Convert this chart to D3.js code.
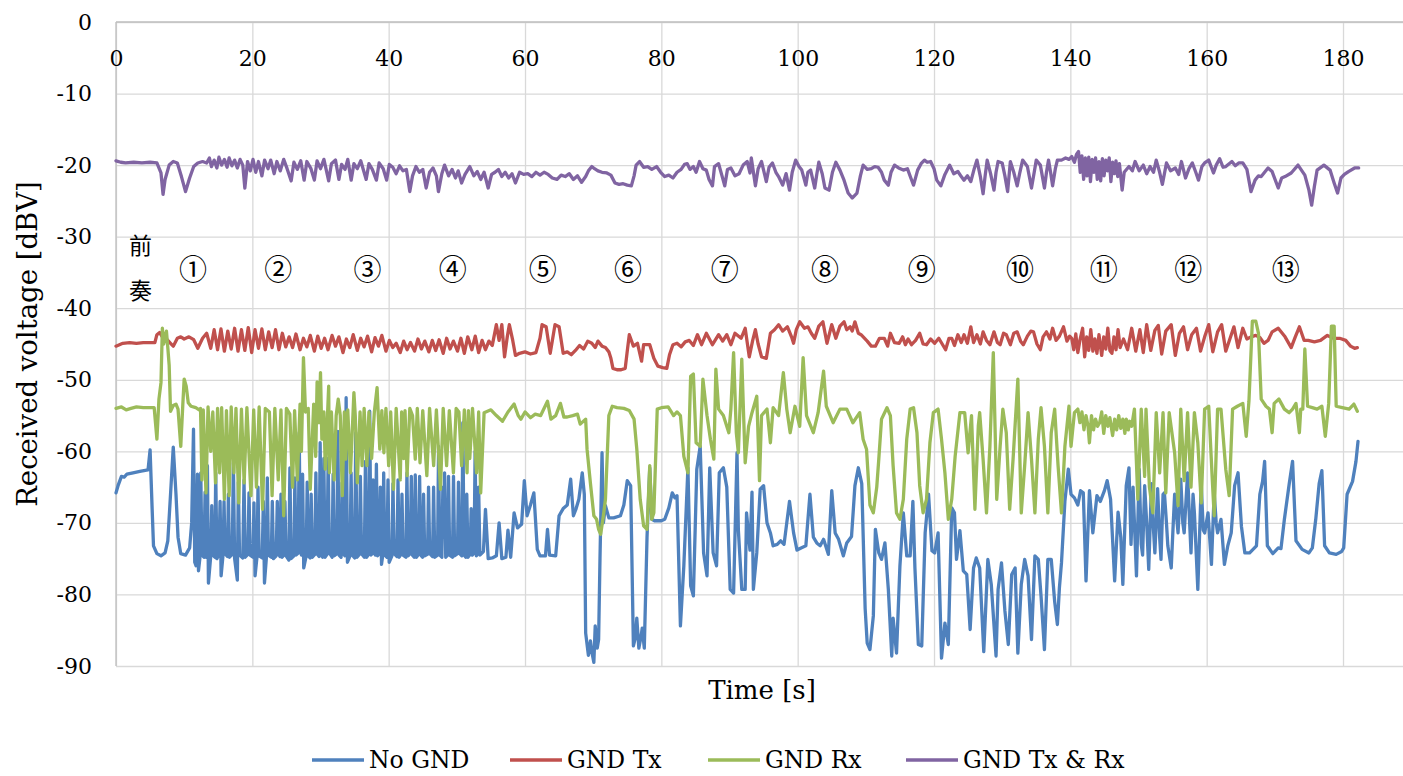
<!DOCTYPE html>
<html>
<head>
<meta charset="utf-8">
<script src="https://cdn.jsdelivr.net/npm/d3@7"></script>
<style>
  body { margin: 0; background: #fff; }
  svg { display: block; font-family: "DejaVu Serif", "Liberation Serif", serif; }
</style>
</head>
<body>
<svg id="chart" width="1403" height="776"></svg>
<script>
// ---- data: [time s, received voltage dBV] ----
const noGnd = [[0,-65.8],[0.3,-64.8],[0.8,-63.5],[1.2,-63.6],[1.6,-63.2],[2.5,-63.0],[3.5,-62.8],[4.7,-62.6],[5.0,-59.8],[5.3,-68],[5.5,-73.2],[6.0,-74.3],[6.6,-74.6],[7.2,-74.2],[7.6,-72.5],[8.0,-66],[8.4,-59.4],[8.8,-66],[9.1,-72],[9.5,-74.3],[10.2,-74.5],[10.8,-73.5],[11.1,-70],
[11.37,-56.9],[11.55,-75.5],[11.75,-76.0],[11.95,-63.2],[12.1,-76.7],[12.3,-75],[12.44,-63.0],[12.6,-74.5],[12.9,-74.8],[13.07,-65.7],[13.22,-74.8],[13.41,-62.0],[13.56,-78.4],[13.9,-74.6],[14.05,-67.6],[14.2,-74.5],[14.5,-74.8],[14.63,-63.0],[14.8,-75.0],[15.1,-74.4],[15.27,-67.0],[15.42,-77.4],[15.7,-74.5],[15.85,-67.0],[16.0,-74.3],[16.35,-74.7],[16.49,-66.0],[16.65,-74.8],[17.05,-74.4],[17.22,-61.6],[17.4,-75.0],[17.8,-78.0],[17.95,-64.3],[18.12,-74.5],[18.6,-74.9],[18.78,-64.0],[18.95,-74.8],[19.35,-74.4],[19.51,-65.8],[19.68,-74.5],[20.1,-74.8],[20.24,-67.2],[20.4,-77.4],[20.7,-74.6],[20.83,-65.0],[21.0,-74.6],[21.45,-74.9],[21.61,-67.0],[21.78,-78.4],[22.05,-75],[22.2,-63.7],[22.36,-74.5],[22.78,-74.8],[22.93,-67.0],[23.1,-75.0],[23.5,-74.6],[23.66,-67.0],[23.82,-74.3],[24.05,-74.7],[24.2,-66.0],[24.36,-74.8],[24.63,-74.5],[24.78,-67.0],[24.95,-74.6],[25.36,-75.2],[25.51,-62.3],[25.68,-75.0],[26.1,-74.6],[26.24,-63.7],[26.4,-74.5],[26.73,-74.2],[26.88,-57.4],[27.03,-74.0],[27.22,-74.5],[27.37,-63.2],[27.54,-76.3],[27.9,-74.6],[28.05,-64.3],[28.21,-74.6],[28.48,-74.9],[28.63,-66.0],[28.8,-74.8],[29.17,-74.4],[29.32,-63.0],[29.48,-74.3],[29.8,-74.7],[29.95,-58.8],[30.12,-74.5],[30.33,-74.8],[30.49,-61.0],[30.66,-74.8],[30.97,-74.4],[31.12,-61.0],[31.3,-74.2],[31.7,-74.8],[31.85,-63.2],[32.02,-74.6],[32.39,-74.3],[32.54,-57.2],[32.71,-74.5],[33.02,-74.8],[33.17,-64.4],[33.33,-74.3],[33.6,-74.6],[33.76,-52.5],[33.95,-75.5],[34.33,-74.6],[34.49,-63.0],[34.66,-74.5],[35.02,-74.9],[35.17,-57.4],[35.35,-74.8],[35.7,-74.4],[35.85,-63.5],[36.02,-74.3],[36.43,-74.8],[36.59,-61.4],[36.76,-74.8],[37.06,-74.4],[37.22,-54.4],[37.4,-74.5],[37.56,-74.3],[37.71,-64.0],[37.88,-74.2],[38.04,-74.5],[38.2,-61.8],[38.37,-74.6],[38.63,-74.3],[38.78,-65.0],[38.95,-75.8],[39.12,-74.6],[39.27,-63.0],[39.44,-74.5],[39.75,-74.8],[39.9,-64.0],[40.07,-75.5],[40.48,-74.6],[40.63,-64.5],[40.8,-74.3],[41.22,-74.7],[41.37,-64.0],[41.54,-74.8],[41.8,-74.4],[41.95,-66.0],[42.12,-74.5],[42.53,-74.8],[42.68,-63.0],[42.85,-74.6],[43.17,-74.3],[43.32,-63.5],[43.49,-74.5],[43.75,-74.8],[43.9,-63.3],[44.07,-74.8],[44.39,-74.4],[44.54,-63.5],[44.71,-74.5],[44.97,-74.8],[45.12,-66.0],[45.29,-74.6],[45.7,-74.4],[45.85,-65.0],[46.02,-74.3],[46.44,-74.7],[46.59,-65.0],[46.76,-74.8],[47.17,-74.5],[47.32,-59.3],[47.5,-74.5],[47.8,-74.8],[47.95,-65.0],[48.07,-72],[48.2,-63.0],[48.37,-74.8],[48.63,-74.5],[48.78,-63.5],[48.95,-74.5],[49.36,-74.8],[49.51,-63.5],[49.68,-74.6],[50.09,-74.3],[50.24,-64.3],[50.41,-74.3],[50.73,-74.6],[50.88,-56.0],[51.06,-74.5],[51.31,-74.8],[51.46,-66.0],[51.63,-74.8],[51.95,-74.4],[52.1,-68.0],[52.26,-74.5],[52.53,-74.2],[52.68,-60.0],[52.86,-74.6],[53.06,-74.3],[53.2,-65.0],[53.38,-74.5],
[53.9,-74.0],[54.2,-68.1],[54.6,-75.0],[55.2,-74.9],[55.8,-74.6],[56.2,-70.0],[56.6,-75.0],[57.2,-74.8],[57.5,-71.0],[57.9,-74.8],[58.4,-68.6],[58.9,-70.7],[59.5,-70.2],[59.9,-64.1],[60.3,-69.0],[60.8,-67.5],[61.3,-65.8],[61.8,-73.7],[62.2,-74.6],[63.0,-74.6],[63.3,-70.9],[63.6,-74.5],[64.5,-74.6],[65.0,-69.0],[65.6,-68.0],[66.2,-67.5],[66.7,-63.9],[67.1,-69.0],[67.5,-68.0],[67.9,-66.7],[68.4,-63.0],[68.7,-66.0],[68.9,-85.4],[69.3,-88.5],[69.6,-86.5],[69.8,-88.0],[70.1,-89.5],[70.3,-84.4],[70.6,-87.5],[70.8,-86.3],[71.0,-75.0],[71.3,-60.2],[71.5,-70.0],[71.8,-67.6],[72.3,-69.3],[73.0,-69.3],[74.0,-69.0],[74.5,-67.5],[75.0,-64.1],[75.5,-64.8],[75.9,-87.2],[76.2,-86.0],[76.4,-83.3],[76.7,-87.5],[77.0,-86.0],[77.2,-84.7],[77.5,-87.5],[77.9,-72.0],[78.3,-62.3],[78.6,-69.5],[79.0,-69.7],[80.0,-69.7],[80.5,-69.5],[81.1,-67.9],[81.6,-65.8],[82.0,-66.5],[82.3,-66.2],[82.8,-84.4],[83.3,-76.0],[83.9,-62.3],[84.3,-78.8],[84.7,-80.2],[85.2,-62.5],[85.7,-59.3],[86.2,-74.2],[86.7,-77.4],[87.1,-62.3],[87.6,-74.2],[88.1,-76.0],[88.5,-63.0],[89.1,-62.3],[89.6,-65.0],[90.1,-79.3],[90.6,-79.8],[91.1,-60.2],[91.3,-71.0],[91.8,-79.3],[92.3,-79.3],[92.5,-68.6],[93.0,-73.8],[93.3,-65.7],[93.5,-79.3],[94.0,-74.2],[94.5,-65.3],[95.0,-64.8],[95.5,-70.0],[96.0,-71.4],[96.4,-73.2],[97.0,-73.0],[97.5,-72.5],[98.0,-73.0],[98.4,-70.0],[98.8,-67.0],[99.4,-71.4],[99.9,-73.8],[100.5,-73.5],[101.2,-73.2],[101.8,-66.0],[102.3,-72.0],[102.8,-72.8],[103.3,-73.2],[103.8,-72.3],[104.5,-74.4],[105.0,-65.5],[105.5,-71.4],[106.0,-72.3],[106.7,-74.6],[107.2,-72.8],[107.9,-71.9],[108.4,-64.8],[108.9,-62.3],[109.4,-64.5],[109.9,-82.0],[110.2,-86.8],[110.6,-87.7],[111.1,-83.0],[111.4,-70.9],[111.9,-74.2],[112.3,-75.1],[112.8,-72.8],[113.3,-79.3],[113.8,-88.6],[114.0,-83.3],[114.5,-88.2],[115.0,-76.0],[115.5,-68.6],[116.0,-74.6],[116.5,-74.6],[116.9,-67.0],[117.2,-76.3],[117.7,-87.0],[118.2,-87.2],[118.7,-71.4],[119.2,-66.0],[119.7,-73.9],[120.1,-74.2],[120.6,-71.4],[121.1,-88.9],[121.6,-84.0],[122.1,-87.0],[122.6,-67.9],[123.0,-68.6],[123.3,-75.1],[123.8,-71.1],[124.3,-76.7],[124.8,-77.2],[125.3,-84.9],[125.8,-76.3],[126.2,-74.9],[126.7,-76.3],[127.3,-88.0],[127.9,-75.1],[128.4,-78.6],[129.1,-88.6],[129.4,-79.3],[129.9,-75.6],[130.4,-82.3],[130.9,-87.0],[131.4,-77.2],[131.9,-76.3],[132.3,-88.2],[132.8,-78.6],[133.3,-75.1],[133.8,-77.4],[134.3,-86.3],[134.8,-74.6],[135.3,-75.1],[135.7,-80.2],[136.2,-87.7],[136.7,-75.1],[137.2,-75.1],[137.7,-81.0],[138.1,-84.2],[138.4,-79.0],[138.7,-75.6],[139.2,-67.0],[139.7,-62.5],[140.1,-66.0],[140.6,-66.5],[141.1,-67.5],[141.5,-65.5],[141.9,-65.8],[142.3,-78.1],[142.8,-65.5],[143.3,-71.4],[143.9,-66.2],[144.4,-67.0],
[145.0,-65.5],[145.4,-64.1],[145.9,-66.7],[146.5,-78.1],[147.0,-68.5],[147.4,-72],[147.7,-78.6],[148.2,-64.8],[148.6,-62.3],[148.9,-73],[149.2,-65],[149.7,-77.4],[150.1,-62.5],[150.4,-73],[150.6,-74.5],[150.9,-64.8],[151.2,-70],[151.5,-76.5],[151.9,-64.5],[152.2,-71],[152.4,-74.2],[152.8,-65.2],[153.1,-72],[153.3,-75.1],[153.6,-66.0],[153.8,-65.8],[154.1,-70],[154.3,-73.2],[154.8,-76.3],[155.1,-70],[155.3,-66],[155.8,-71.4],[156.2,-63.9],[156.5,-70],[156.7,-71.4],[157.2,-63],[157.5,-70],[157.7,-74.2],[158.0,-66],[158.2,-68.6],[158.7,-79.3],[159.2,-64.5],[159.5,-71],[159.7,-71.4],[160.2,-68.6],[160.7,-75.8],[161.1,-65.8],[161.4,-70],[161.6,-71.4],[162.1,-69.5],[162.6,-75.8],[163.1,-73.2],[163.6,-71.4],[164.1,-64.8],[164.6,-63],[165.1,-70.5],[165.6,-74.2],[166.3,-74.2],[167.3,-73.2],[167.8,-66],[168.2,-64.2],[168.5,-61.4],[168.9,-73.2],[169.7,-74.3],[170.5,-73.5],[170.9,-73.6],[171.4,-69.5],[172.1,-64.6],[172.6,-61.4],[173.1,-72.5],[174.0,-73.7],[175.0,-74.2],[175.5,-73.5],[176.0,-69.5],[176.5,-64.5],[176.9,-62.7],[177.3,-73.2],[178.0,-74.2],[179.0,-74.4],[179.8,-74],[180.1,-73.5],[180.6,-66],[181.4,-64.2],[181.9,-61.4],[182.2,-58.6]];

const gndTx = [[0,-45.3],[0.5,-45.1],[1.0,-44.9],[2,-44.8],[3,-44.9],[4,-44.8],[5,-44.8],[5.7,-44.8],[6.0,-43.7],[6.4,-43.4],[6.8,-44.0],[7.5,-44.4],[8.0,-44.9],[8.4,-45.3],[9.0,-44.2],[9.5,-44.0],[10.0,-44.3],[10.7,-44.0],[11.4,-44.4],[12.0,-45.6],[12.7,-44.2],[13.3,-43.5],[13.9,-45.6],
[14.4,-43.0],[14.9,-45.8],[15.4,-42.9],[15.9,-46.0],[16.4,-43.2],[16.9,-45.7],[17.4,-42.8],[17.9,-46.0],[18.4,-43.0],[18.9,-45.9],[19.4,-42.7],[19.9,-46.2],[20.4,-43.0],[20.9,-45.6],[21.4,-42.9],[21.9,-45.8],[22.4,-43.3],[22.9,-45.5],[23.4,-43.0],[23.9,-45.8],[24.4,-43.5],[24.9,-45.4],
[25.4,-44.0],[25.9,-45.5],[26.4,-43.6],[27.0,-45.8],[27.5,-44.2],[28.0,-45.4],[28.5,-43.8],[29.1,-46.0],[29.6,-43.9],[30.1,-45.6],[30.6,-44.2],[31.1,-45.8],[31.7,-43.8],[32.2,-45.3],[32.7,-44.0],[33.3,-46.2],[33.8,-44.3],[34.3,-45.5],[34.8,-43.7],[35.4,-45.9],[35.9,-44.2],[36.4,-45.4],[36.9,-43.9],[37.5,-46.1],[38.0,-44.1],[38.5,-45.3],[39.0,-43.8],[39.6,-46.0],[40.1,-44.5],[40.6,-45.5],[41.1,-44.9],[41.7,-46.2],[42.2,-44.6],[42.7,-45.8],[43.2,-44.8],[43.8,-46.0],[44.3,-44.3],[44.8,-45.7],[45.3,-44.6],[45.9,-46.1],[46.4,-44.5],[46.9,-45.9],[47.4,-44.4],[48.0,-46.3],[48.5,-44.2],[49.0,-45.7],[49.5,-44.6],[50.1,-46.0],[50.6,-44.2],[51.1,-46.3],[51.6,-44.0],[52.2,-45.8],[52.7,-43.9],[53.2,-46.2],[53.7,-44.5],[54.2,-45.8],[54.7,-44.6],[55.2,-45.2],
[55.8,-42.3],[56.2,-44.5],[56.6,-42.3],[57.0,-46.8],[57.4,-44],[57.7,-42.3],[58.2,-44.5],[58.6,-46.6],[59.2,-46.3],[60.0,-46.1],[60.8,-46.4],[61.6,-46.2],[62.2,-44.2],[62.5,-42.3],[63.1,-42.6],[63.7,-46.3],[64.4,-42.3],[65.0,-42.6],[65.6,-46.3],[66.2,-46.1],[66.8,-46.5],[67.4,-45.9],[68.0,-45.2],[68.6,-45.7],[69.2,-44.6],[69.8,-44.9],[70.3,-45.5],[70.7,-44.6],[71.3,-45.3],[71.8,-45.5],[72.3,-46.1],[72.6,-47.0],[72.9,-48.4],[73.5,-48.6],[74.1,-48.6],[74.7,-48.4],[75.0,-46],[75.3,-43.7],[75.9,-45.3],[76.5,-44.9],[77.1,-47.4],[77.4,-45.1],[78.3,-45.1],[78.9,-47.0],[79.5,-48.1],[80.2,-48.3],[80.8,-48.4],[81.2,-46.5],[81.7,-45.1],[82.3,-44.9],[82.9,-45.4],[83.5,-44.7],[84.1,-44.5],[84.7,-45.2],[85.3,-43.7],[85.9,-45.1],[86.6,-43.5],[87.5,-45.1],[88.4,-43.7],[89.0,-44.6],[89.6,-43.7],[90.2,-45.1],[90.8,-43.5],[91.7,-44.2],[92.3,-42.8],[92.9,-46.8],[93.4,-44.5],[93.8,-43.0],[94.2,-45],[94.7,-46.8],[95.4,-47.0],[96.0,-43.5],[96.6,-43.0],[97.2,-42.3],[97.8,-43.2],[98.5,-42.6],[99.1,-44.0],[99.4,-44.9],[99.8,-43.0],[100.3,-41.9],[101.0,-42.8],[101.5,-42.6],[102.0,-43.5],[102.5,-44.2],[103.1,-42.5],[103.7,-41.9],[104.3,-44.9],[105.0,-42.3],[105.6,-44.2],[106.2,-42.5],[106.8,-41.9],[107.2,-43],[107.7,-42.6],[108.0,-43.2],[108.4,-41.9],[108.9,-43.5],[109.3,-43.7],[110.2,-44.6],[110.8,-45.3],[111.4,-45.3],[112.0,-44.2],[112.7,-44.2],[113.2,-45.3],[113.6,-43.5],[114.2,-44.8],[114.9,-44.9],[115.4,-44],[115.8,-45.1],[116.2,-44.3],[116.7,-45.1],[117.3,-44.5],[117.9,-43.5],[118.4,-45.0],[118.9,-45.1],[119.5,-44.3],[120.1,-44.9],[120.7,-44.2],[121.2,-45.0],[121.7,-45.8],[122.2,-44.2],[122.6,-44.2],[123.0,-45.2],[123.5,-43.7],[124.0,-44.8],[124.4,-43.7],[124.9,-44.9],[125.4,-42.6],[125.8,-44.8],[126.3,-43.7],[126.8,-45.0],[127.2,-43.3],[127.7,-44.5],[128.2,-45.1],[128.8,-43.3],[129.3,-44.8],[129.7,-45.1],[130.2,-43.5],[130.6,-43.7],[131.2,-45.1],[131.7,-43.5],[132.2,-43.3],[132.7,-44.6],[133.1,-45.1],[133.7,-43.9],[134.2,-43.2],[134.6,-43.3],[135.1,-45],[135.6,-45.8],[136.0,-44],[136.5,-43.3],[137.0,-44.3],[137.4,-42.8],[137.9,-44.5],[138.4,-43.9],[139.0,-42.6],[139.5,-44.6],[139.9,-43.9],
[140.2,-44.2],[140.5,-45.8],[140.8,-43.6],[141.1,-46.2],[141.4,-44.5],[141.8,-42.8],[142.1,-46.8],[142.4,-44.0],[142.7,-45.9],[143.0,-43.0],[143.3,-46.0],[143.6,-44.3],[143.9,-46.3],[144.2,-43.7],[144.6,-46.6],[144.9,-44.0],[145.2,-45.7],[145.5,-42.8],[145.8,-45.9],[146.1,-46.3],[146.4,-44.0],[146.7,-45.8],[147.0,-43.0],[147.3,-45.5],
[147.8,-44.3],[148.4,-45.8],[149.0,-42.8],[149.6,-46.0],[150.2,-43.0],[150.7,-46.2],[151.2,-42.3],[151.8,-45.9],[152.4,-43.1],[152.9,-42.4],[153.4,-46.4],[154.0,-43.2],[154.8,-42.3],[155.4,-46.6],[156.0,-43.5],[156.6,-42.6],[157.2,-45.8],[157.8,-43.7],[158.5,-42.8],[159.1,-46.0],[159.7,-44.0],[160.3,-42.3],[160.9,-46.1],[161.6,-43.3],[162.2,-42.3],[162.8,-46.0],[163.4,-44.3],[164.0,-42.6],[164.6,-45.5],[165.3,-42.8],[165.9,-44.3],[166.5,-44.0],[167.2,-43.8],[167.8,-44.1],[168.4,-44.9],[169.0,-44.5],[169.6,-43.3],[170.5,-42.8],[171.5,-44.0],[172.4,-45.5],[173.0,-44.0],[173.6,-42.6],[174.3,-44.5],[174.9,-44.5],[175.8,-44.7],[176.7,-44.5],[177.7,-43.8],[178.6,-44.2],[179.5,-44.2],[180.4,-44.5],[181.1,-45.3],[181.7,-45.6],[182.1,-45.5]];

const gndRx = [[0,-54.0],[0.8,-53.8],[1.5,-54.2],[2.2,-54.0],[3,-53.8],[4,-53.9],[5,-53.9],[5.6,-53.9],[6.0,-58.3],[6.3,-52.7],[6.6,-50.4],[6.8,-42.8],[7.0,-45],[7.2,-43.9],[7.4,-43.2],[7.6,-45.5],[7.8,-48],[8.0,-54.4],[8.4,-53.6],[8.8,-53.4],[9.1,-54.1],[9.5,-59.3],[9.8,-53.5],[10.0,-49.9],[10.3,-50.9],[10.6,-53.2],[11.0,-53.7],[11.7,-53.9],[12.2,-54.2],
[12.4,-54.0],[12.6,-64.0],[12.8,-54.2],[13.2,-65.8],[13.5,-53.8],[13.9,-60.0],[14.2,-54.5],[14.6,-64.4],[14.9,-54.0],[15.2,-63.0],[15.5,-53.9],[15.9,-66.7],[16.2,-54.3],[16.6,-66.2],[16.9,-53.8],[17.3,-63.0],[17.6,-54.0],[18.0,-67.2],[18.4,-54.1],[18.8,-64.4],[19.2,-53.9],[19.8,-66.2],[20.2,-54.2],[20.6,-65.0],[21.0,-53.8],[21.5,-68.1],[21.9,-54.0],[22.5,-54.5],[22.9,-66.2],[23.3,-54.0],[23.8,-64.0],[24.2,-54.2],[24.6,-69.0],[25.0,-54.0],[25.5,-54.8],[25.9,-65.0],[26.2,-54.3],[26.6,-64.0],[27.0,-53.4],[27.2,-60.0],[27.5,-46.9],[27.8,-54.5],[28.2,-54.0],[28.5,-65.3],[29.0,-53.4],[29.3,-60.7],[29.5,-50.3],[29.8,-56.0],[30.0,-49.0],[30.2,-58.3],[30.5,-54.5],[30.7,-62.5],[31.2,-50.9],[31.3,-63.0],[31.6,-54.5],[32.0,-64.0],[32.3,-55.0],[32.6,-52.7],[32.9,-55.0],[33.2,-66.2],[33.5,-54.5],[33.7,-61.1],[34.0,-54.2],[34.4,-63.0],[34.9,-51.8],[35.1,-55.0],[35.4,-64.4],[35.8,-54.5],[36.1,-62.0],[36.4,-54.0],[36.8,-62.0],[37.1,-54.5],[37.5,-61.0],[37.9,-54.5],[38.3,-51.1],[38.7,-59.7],[39.0,-54.3],[39.3,-60.2],[39.6,-54.0],[40.0,-62.0],[40.3,-54.5],[40.7,-65.3],[41.1,-54.0],[41.7,-64.0],[41.9,-54.5],[42.2,-61.0],[42.4,-54.3],[42.7,-63.4],[43.1,-54.0],[43.5,-55.0],[43.9,-61.1],[44.2,-54.0],[44.6,-61.6],[45.0,-54.3],[45.6,-63.4],[46.0,-54.0],[46.6,-62.0],[47.0,-54.2],[47.6,-65.3],[48.0,-54.0],[48.5,-62.0],[48.9,-54.3],[49.5,-63.0],[49.9,-54.0],[50.3,-54.5],[50.7,-62.0],[51.1,-54.2],[51.5,-63.0],[51.7,-54.3],[51.9,-61.0],[52.3,-54.0],[52.9,-63.0],[53.2,-54.5],[53.5,-65.8],[54.0,-54.6],
[55.0,-54.2],[55.8,-55.0],[56.7,-55.8],[57.5,-54.5],[58.4,-53.4],[59.0,-55.0],[59.4,-55.5],[60.0,-54.5],[60.8,-55.3],[61.5,-54.8],[62.3,-55.0],[63.3,-53.0],[63.8,-55.5],[64.5,-55.0],[65.2,-53.3],[65.7,-55.2],[66.2,-55.2],[67.0,-55.0],[67.7,-54.8],[68.1,-56.2],[68.9,-55.5],[69.1,-59.7],[69.6,-64.5],[70.1,-69.0],[70.5,-69.5],[70.8,-70.9],[71.1,-71.6],[71.5,-69.0],[71.8,-66.7],[72.3,-55.0],[72.8,-53.7],[73.5,-53.9],[74.5,-54.0],[75.3,-54.3],[76.0,-55.5],[76.4,-59.7],[76.9,-66.7],[77.4,-70.4],[77.9,-70.9],[78.3,-62.0],[78.6,-69.5],[78.9,-68.6],[79.4,-54.1],[80.0,-53.9],[81.0,-53.8],[81.8,-55.0],[82.3,-54.5],[82.8,-55.0],[83.3,-60.7],[83.9,-63.0],[84.3,-49.5],[84.7,-49.2],[85.1,-58.8],[85.7,-59.3],[86.1,-49.9],[86.7,-55.0],[87.2,-58.3],[87.7,-61.1],[88.0,-48.5],[88.4,-54.1],[89.1,-55.0],[89.9,-57.4],[90.2,-54.1],[90.6,-46.2],[91.0,-57.4],[91.3,-60.2],[91.8,-47.1],[92.3,-61.6],[92.8,-56.5],[93.3,-54.6],[94.0,-52.3],[94.4,-64.1],[94.7,-55.0],[95.5,-54.1],[96.0,-58.8],[96.4,-53.9],[97.2,-55.0],[97.9,-49.0],[98.4,-54.1],[98.9,-57.4],[99.6,-53.7],[100.3,-56.5],[100.8,-46.9],[101.3,-55.0],[102.3,-57.4],[103.0,-54.6],[103.8,-48.8],[104.2,-53.7],[105.2,-56.0],[106.2,-54.1],[107.2,-54.1],[108.1,-56.0],[109.1,-54.6],[109.6,-58.3],[110.1,-59.7],[110.6,-67.5],[111.1,-68.6],[111.6,-65],[111.9,-61.1],[112.3,-55.5],[113.1,-53.9],[113.6,-55.0],[114.0,-62.0],[114.5,-68.6],[115.0,-69.5],[115.5,-66.7],[116.0,-58.3],[116.5,-54.1],[117.0,-53.9],[117.5,-57.4],[117.9,-64.8],[118.4,-68.6],[118.9,-66.7],[119.4,-58.8],[119.9,-54.6],[120.6,-54.1],[121.1,-58.3],[121.6,-63.0],[122.1,-69.5],[122.6,-66.7],[123.1,-60.7],[123.8,-54.6],[124.5,-54.6],[125.0,-60.2],[125.5,-55.0],[126.0,-68.1],[126.5,-56.4],[126.7,-54.6],[127.2,-61.1],[127.7,-68.6],[128.2,-59.3],[128.7,-46.2],[129.2,-66.7],[129.7,-59.3],[130.1,-54.1],[130.6,-57.4],[131.1,-68.1],[131.6,-61.1],[132.3,-49.9],[132.8,-68.6],[133.3,-62.0],[133.8,-54.6],[134.3,-61.1],[134.8,-68.6],[135.3,-58.3],[135.7,-53.9],[136.2,-59.3],[136.7,-68.6],[137.2,-57.4],[137.7,-54.1],[138.2,-62.0],[138.7,-68.6],[139.2,-59.3],[139.8,-53.7],[140.1,-59.3],[140.6,-54.6],[141.1,-54.1],
[141.4,-56.0],[141.7,-54.5],[142.0,-57.0],[142.3,-55.0],[142.6,-56.5],[142.8,-58.8],[143.1,-55.0],[143.4,-57.0],[143.7,-55.5],[144.0,-56.5],[144.3,-56.0],[144.6,-54.5],[144.9,-57.5],[145.2,-55.0],[145.5,-56.5],[145.8,-55.3],[146.2,-57.8],[146.5,-55.5],[146.8,-57.0],[147.1,-55.0],[147.4,-56.8],[147.7,-55.5],[148.0,-57.5],[148.2,-55.5],[148.5,-57.0],[148.7,-55.8],[149.0,-56.5],[149.4,-54.1],
[149.9,-66.7],[150.4,-54.1],[150.9,-63.5],[151.1,-54.1],[151.6,-65],[152.1,-68.6],[152.6,-54.6],[153.1,-63.0],[153.6,-54.6],[154.0,-65.8],[154.5,-54.6],[155.3,-60.2],[155.8,-67.6],[156.2,-54.1],[156.7,-64.1],[157.2,-54.6],[157.7,-65.0],[158.2,-54.6],[158.7,-58.8],[159.2,-67.2],[159.7,-54.1],[160.3,-53.7],[160.8,-63.5],[161.1,-69.0],[161.6,-54.1],[162.1,-54.1],[162.8,-62.5],[163.3,-66.2],[163.8,-54.1],[164.5,-53.7],[165.3,-53.3],[165.8,-57.9],[166.2,-53.0],[166.7,-41.8],[167.2,-41.8],[167.6,-43.5],[168.0,-52.7],[168.7,-53.7],[169.2,-54.1],[169.6,-57.4],[169.9,-53.3],[170.6,-52.7],[171.4,-54.1],[172.1,-54.6],[172.6,-54.1],[173.1,-53.3],[173.6,-57.4],[173.8,-54.1],[174.1,-54.1],[174.4,-45.7],[174.8,-53.7],[175.5,-53.9],[176.2,-54.1],[176.9,-53.7],[177.4,-57.9],[177.9,-53.3],[178.3,-42.5],[178.7,-42.5],[179.0,-53.7],[179.9,-53.9],[180.9,-54.1],[181.6,-53.4],[182.1,-54.4]];

const gndTxRx = [[0,-19.4],[0.7,-19.6],[1.4,-19.7],[2.6,-19.6],[3.8,-19.7],[5.0,-19.6],[6.0,-19.7],[6.6,-21.1],[6.9,-24.1],[7.2,-22.0],[7.8,-20.0],[8.4,-19.5],[9.0,-19.7],[9.6,-21.6],[10.2,-23.7],[10.8,-21.8],[11.4,-20.2],[12.0,-19.7],[12.7,-19.5],[13.3,-19.7],
[13.7,-19.0],[14.0,-20.2],[14.4,-19.3],[14.8,-20.4],[15.1,-18.9],[15.5,-20.0],[15.9,-19.2],[16.3,-20.3],[16.6,-19.0],[17.0,-20.1],[17.4,-19.3],[17.8,-20.4],[18.2,-19.2],[18.6,-20.0],[18.9,-23.2],[19.3,-19.5],
[19.7,-20.8],[20.1,-19.2],[20.5,-21.0],[20.9,-19.5],[21.4,-21.5],[21.8,-19.3],[22.3,-20.5],[22.7,-19.3],[23.2,-21.2],[23.6,-19.5],[24.1,-20.8],[24.6,-19.2],[25.1,-20.5],[25.7,-22.2],[26.1,-19.6],[26.6,-20.6],[27.1,-19.4],[27.6,-22.1],[28.0,-19.5],[28.6,-20.5],[29.1,-22.1],[29.5,-19.4],[30.0,-20.5],[30.5,-19.2],[31.2,-22.2],[31.6,-19.8],[32.2,-19.3],[32.7,-22.0],[33.1,-19.9],[33.6,-20.6],[34.0,-19.2],[34.5,-22.1],[34.9,-19.8],[35.4,-20.5],[35.9,-19.4],[36.7,-22.0],[37.1,-19.8],[37.6,-20.6],[38.2,-22.1],[38.6,-19.7],[39.2,-20.5],[39.7,-22.1],[40.1,-19.9],
[40.6,-20.3],[41.1,-21.2],[41.6,-20.1],[42.1,-20.8],[42.6,-20.6],[43.1,-23.7],[43.5,-21.5],[44.0,-20.2],[44.5,-21.0],[45.0,-20.6],[45.5,-23.2],[46.0,-21.0],[46.5,-20.4],[47.0,-21.5],[47.3,-23.7],[47.8,-21.2],[48.2,-20.0],[48.8,-21.5],[49.3,-20.6],[49.8,-21.8],[50.2,-20.8],[50.7,-22.5],[51.2,-21.3],[51.9,-20.2],[52.5,-21.5],[53.0,-20.9],[53.5,-22.0],[54.0,-21.0],[54.6,-23.2],[55.1,-21.3],[55.6,-21.0],[56.1,-20.6],[56.6,-21.6],[57.1,-21.0],[57.6,-21.8],[58.1,-21.2],[58.6,-22.5],[59.2,-21.0],[59.8,-21.3],[60.4,-21.2],[61.0,-21.6],[61.6,-21.0],[62.2,-21.4],[62.8,-21.0],[63.4,-21.3],[64.0,-21.8],[64.7,-22.0],[65.3,-21.4],[65.9,-21.6],[66.5,-21.2],[67.1,-22.0],[67.7,-21.5],[68.3,-22.4],[68.9,-21.6],[69.3,-20.8],[69.8,-20.2],[70.2,-20.5],[70.7,-20.8],[71.3,-21.0],[72.0,-21.1],[72.6,-21.4],[73.2,-22.5],[73.8,-22.7],[74.4,-22.6],[75.0,-22.8],[75.6,-22.9],[76.0,-21.5],[76.3,-20.0],[76.8,-19.5],[77.4,-20.3],[78.0,-20.2],[78.6,-20.6],[79.3,-20.2],[79.9,-21.0],[80.5,-21.6],[81.1,-21.4],[81.7,-21.8],[82.3,-21.0],[82.9,-20.6],[83.4,-19.9],[83.8,-19.8],[84.2,-20.6],[84.7,-20.2],[85.1,-21.0],[85.6,-19.5],[86.1,-20.5],[86.6,-20.7],[87.0,-22.0],[87.5,-22.9],[87.8,-20.2],[88.4,-19.8],[88.9,-21.5],[89.3,-22.9],[89.7,-20.6],[90.2,-20.4],[90.8,-21.5],[91.4,-21.2],[92.0,-20.0],[92.6,-19.5],
[93.0,-21.1],[93.2,-19.0],[93.8,-22.9],[94.2,-20.5],[94.7,-19.5],[95.4,-22.3],[95.8,-20.3],[96.3,-19.7],[96.8,-21.0],[97.2,-21.6],[97.8,-22.8],[98.3,-21.2],[98.8,-23.5],[99.2,-21.0],[99.7,-19.3],[100.2,-20.2],[100.6,-20.7],[101.2,-22.8],[101.5,-21.0],[101.9,-20.7],[102.5,-23.2],[102.8,-21.3],[103.1,-19.6],[103.6,-21.2],[104.0,-23.2],[104.6,-23.5],[105.1,-21.0],[105.6,-19.6],[106.2,-20.7],[106.8,-22.1],[107.4,-23.9],[108.0,-24.6],[108.7,-23.9],[109.2,-21.5],[109.6,-20.0],[110.2,-20.6],[110.8,-20.5],[111.3,-20.2],[111.8,-20.3],[112.3,-21.0],[112.7,-22.1],[113.3,-22.8],[113.7,-21.0],[114.2,-20.0],[114.8,-20.4],[115.5,-20.7],[116.1,-20.5],[116.6,-21.8],[117.0,-22.8],[117.6,-20.7],[118.1,-19.8],[118.6,-19.3],[119.0,-19.6],[119.5,-19.5],[120.0,-20.5],[120.4,-22.1],[121.0,-22.9],[121.6,-21.3],[122.3,-20.0],[122.9,-21.2],[123.5,-20.9],[124.0,-21.6],[124.4,-22.1],[124.9,-21.5],[125.4,-22.3],[125.9,-20.5],[126.3,-19.3],[126.8,-21.6],[127.2,-24.0],[127.5,-21.5],[127.8,-19.3],[128.3,-21.2],[128.8,-23.5],[129.1,-21.0],[129.4,-19.5],[130.0,-19.7],[130.4,-21.5],[130.8,-23.7],[131.2,-19.5],[131.7,-21.0],[132.2,-22.9],[132.6,-21.0],[133.0,-19.3],[133.7,-20.2],[134.3,-23.2],[134.7,-21.0],[135.0,-19.3],[135.6,-20.0],[136.2,-23.2],[136.5,-21.0],[136.8,-19.3],[137.1,-21.0],[137.4,-22.9],[137.8,-20.5],[138.1,-19.3],[138.7,-19.3],[139.3,-19.0],[139.8,-19.2],[140.2,-18.8],[140.6,-19.6],[140.9,-18.5],[141.2,-18.1],
[141.45,-21.0],[141.7,-18.7],[141.95,-22.0],[142.2,-19.0],[142.45,-21.5],[142.7,-18.9],[142.95,-22.3],[143.2,-19.2],[143.45,-21.0],[143.7,-19.0],[143.95,-22.0],[144.2,-19.5],[144.45,-22.2],[144.7,-19.1],[144.95,-21.5],[145.2,-19.3],[145.45,-20.8],[145.7,-19.0],[145.95,-22.3],[146.2,-19.6],[146.45,-21.2],[146.7,-19.4],[146.95,-21.6],[147.2,-19.8],[147.6,-23.5],[147.9,-21.0],
[148.6,-20.2],[149.1,-20.8],[149.5,-19.5],[150.1,-20.8],[150.7,-20.0],[151.2,-21.2],[151.7,-20.2],[152.2,-21.0],[152.6,-19.3],[153.1,-21.0],[153.5,-22.7],[154.1,-19.7],[154.7,-20.8],[155.4,-20.4],[155.9,-21.3],[156.3,-19.5],[156.9,-21.8],[157.4,-20.5],[157.9,-19.7],[158.4,-21.0],[158.8,-22.1],[159.3,-20.2],[159.7,-19.7],[160.3,-19.3],[161.0,-21.1],[161.4,-20.0],[161.9,-19.1],[162.4,-20.3],[162.8,-20.2],[163.3,-19.8],[163.7,-19.5],[164.2,-20.1],[164.7,-19.7],[165.3,-19.7],[165.9,-20.6],[166.5,-23.7],[167.1,-22.1],[167.6,-21.5],[168.0,-21.6],[168.5,-21.0],[169.0,-20.4],[169.6,-20.9],[170.5,-23.2],[171.0,-21.8],[171.5,-21.6],[172.4,-21.1],[173.4,-20.0],[174.4,-21.4],[175.0,-23.5],[175.4,-25.6],[175.8,-23.0],[176.2,-20.7],[177.2,-20.0],[178.1,-20.7],[178.7,-22.5],[179.2,-23.9],[179.7,-21.8],[180.2,-21.3],[180.8,-20.9],[181.7,-20.4],[182.3,-20.4]];

const seriesNames = ["No GND", "GND Tx", "GND Rx", "GND Tx & Rx"];
const seriesColors = ["#4f81bd", "#c0504d", "#9bbb59", "#8064a2"];
const xTicks = [0, 20, 40, 60, 80, 100, 120, 140, 160, 180];
const yTicks = [0, -10, -20, -30, -40, -50, -60, -70, -80, -90];
const sectionLabels = ["①","②","③","④","⑤","⑥","⑦","⑧","⑨","⑩","⑪","⑫","⑬"];
const sectionTimes = [11.3, 23.8, 36.9, 49.4, 62.6, 75.1, 89.3, 104, 118.2, 132.6, 144.9, 157.3, 171.6];
const introChars = ["前", "奏"];

// ---- layout ----
const plot = {left: 116, right: 1403, top: 22, bottom: 666};
const xMax = 188.8;

const svg = d3.select("#chart");

const x = d3.scaleLinear().domain([0, xMax]).range([plot.left, plot.right]);
const y = d3.scaleLinear().domain([-90, 0]).range([plot.bottom, plot.top]);

// gridlines
svg.append("g")
    .attr("transform", `translate(${plot.left},0)`)
    .call(d3.axisLeft(y).tickValues(yTicks).tickSize(-(plot.right - plot.left)).tickFormat(""))
    .call(g => g.select(".domain").remove())
    .selectAll("line").attr("stroke", "#d9d9d9").attr("stroke-width", 1.3);

svg.append("g")
    .attr("transform", `translate(0,${plot.bottom})`)
    .call(d3.axisBottom(x).tickValues(xTicks).tickSize(-(plot.bottom - plot.top)).tickFormat(""))
    .call(g => g.select(".domain").remove())
    .selectAll("line").attr("stroke", "#d9d9d9").attr("stroke-width", 1.3);

// axis lines (left and the 0 dB line on top)
svg.append("line")
    .attr("x1", x(0)).attr("x2", x(0)).attr("y1", y(0)).attr("y2", y(-90))
    .attr("stroke", "#bfbfbf").attr("stroke-width", 1.3);
svg.append("line")
    .attr("x1", x(0)).attr("x2", plot.right).attr("y1", y(0)).attr("y2", y(0))
    .attr("stroke", "#bfbfbf").attr("stroke-width", 1.3);

// y tick labels
let yAxis = svg.append("g")
    .attr("transform", `translate(${plot.left},0)`)
    .call(d3.axisLeft(y).tickValues(yTicks).tickSize(0).tickPadding(24).tickFormat(d => String(d)));
yAxis.select(".domain").remove();
yAxis.selectAll("text")
    .attr("font-family", "DejaVu Serif, serif")
    .attr("font-size", 22).attr("fill", "#000");

// x tick labels, just under the 0 dB line
let xAxis = svg.append("g")
    .attr("transform", `translate(0,${y(0)})`)
    .call(d3.axisBottom(x).tickValues(xTicks).tickSize(0).tickFormat(d => String(d)));
xAxis.select(".domain").remove();
xAxis.selectAll("text")
    .attr("y", 36).attr("dy", "0.35em")
    .attr("font-family", "DejaVu Serif, serif")
    .attr("font-size", 22).attr("fill", "#000");

// series
const line = d3.line()
    .x(d => x(d[0]))
    .y(d => y(d[1]));

const allSeries = [noGnd, gndTx, gndRx, gndTxRx];
svg.append("g")
    .selectAll("path")
    .data(allSeries)
    .join("path")
    .attr("d", d => line(d))
    .attr("fill", "none")
    .attr("stroke", (d, i) => seriesColors[i])
    .attr("stroke-width", 3.3)
    .attr("stroke-linejoin", "round")
    .attr("stroke-linecap", "round");

// section annotations
svg.append("g")
    .selectAll("text")
    .data(sectionLabels)
    .join("text")
    .attr("x", (d, i) => x(sectionTimes[i]))
    .attr("y", y(-34.7))
    .attr("dy", "0.36em")
    .attr("text-anchor", "middle")
    .attr("font-family", "'Noto Sans CJK JP', 'DejaVu Sans', sans-serif")
    .attr("font-size", 28)
    .text(d => d);

svg.append("g")
    .selectAll("text")
    .data(introChars)
    .join("text")
    .attr("x", x(3.6))
    .attr("y", (d, i) => y(i === 0 ? -31.3 : -37.6))
    .attr("dy", "0.36em")
    .attr("text-anchor", "middle")
    .attr("font-family", "'Noto Sans CJK JP', sans-serif")
    .attr("font-size", 23)
    .text(d => d);

// axis titles
svg.append("text")
    .attr("transform", `translate(27,${(plot.top + plot.bottom) / 2}) rotate(-90)`)
    .attr("text-anchor", "middle")
    .attr("dy", "0.35em")
    .attr("font-size", 27.5)
    .text("Received voltage [dBV]");

svg.append("text")
    .attr("x", 762).attr("y", 690)
    .attr("text-anchor", "middle")
    .attr("dy", "0.35em")
    .attr("font-size", 26)
    .text("Time [s]");

// legend
const legendX = [312, 510, 708, 906];
const legend = svg.append("g")
    .selectAll("g")
    .data(seriesNames)
    .join("g")
    .attr("transform", (d, i) => `translate(${legendX[i]},760)`);
legend.append("line")
    .attr("x1", 0).attr("x2", 52)
    .attr("stroke", (d, i) => seriesColors[i])
    .attr("stroke-width", 3.3);
legend.append("text")
    .attr("x", 57).attr("dy", "0.35em")
    .attr("font-size", 23.5)
    .text(d => d);
</script>
</body>
</html>
